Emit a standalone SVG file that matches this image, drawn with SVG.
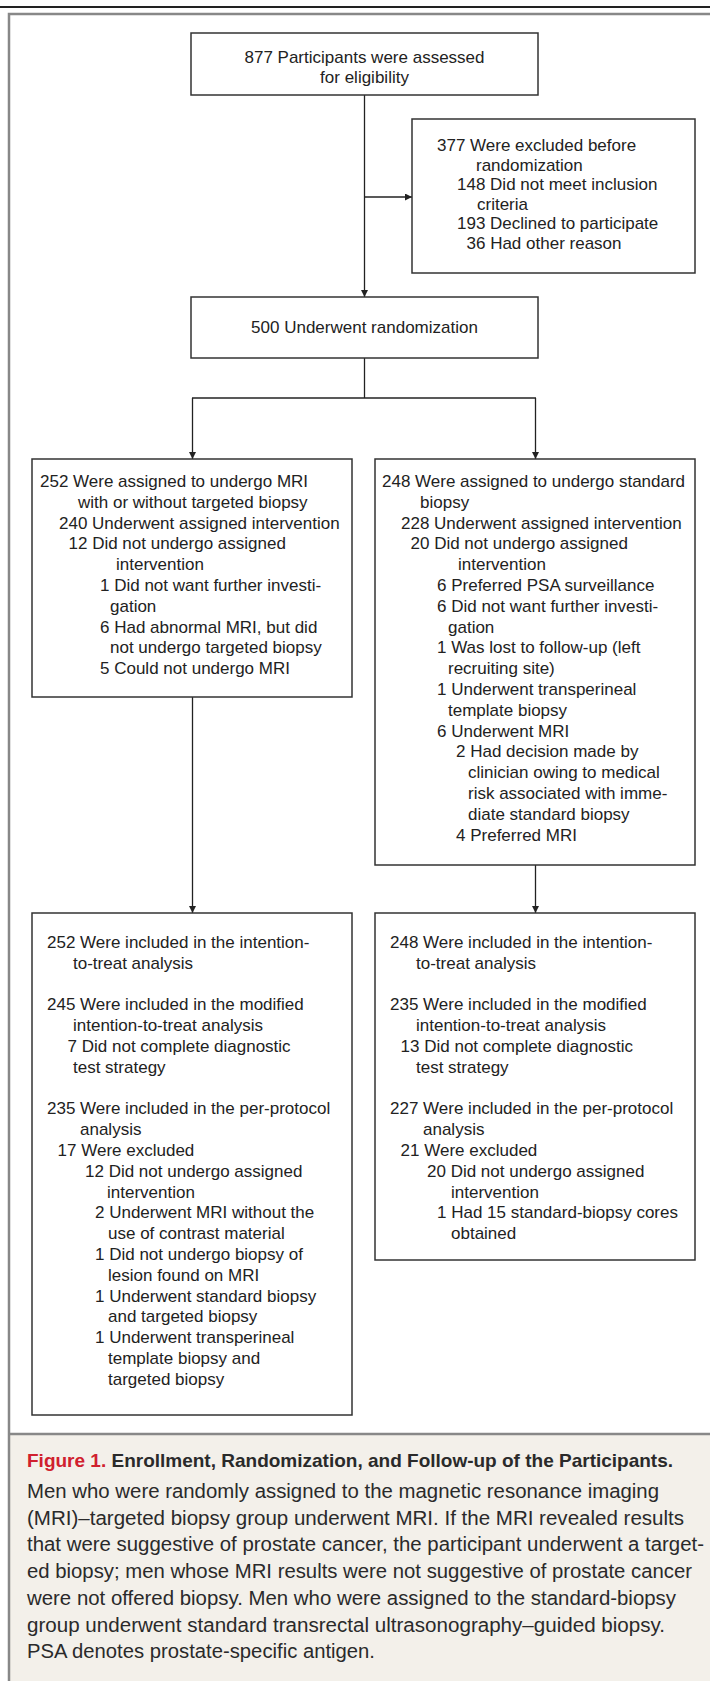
<svg xmlns="http://www.w3.org/2000/svg" width="710" height="1681" viewBox="0 0 710 1681">
<style>
.t{font-family:"Liberation Sans",Arial,sans-serif;font-size:17px;fill:#222}
.c{text-anchor:middle}
.box{fill:#fff;stroke:#333;stroke-width:1.5}
.ln{fill:none;stroke:#222;stroke-width:1.3}
.cap{font-family:"Liberation Sans",Arial,sans-serif;font-size:20px;fill:#2a2a2a}
.ttl{font-family:"Liberation Sans",Arial,sans-serif;font-size:19px;font-weight:bold;fill:#2a2a2a}
</style>
<defs>
<marker id="ah" viewBox="0 0 10 10" refX="10" refY="5" markerUnits="userSpaceOnUse" markerWidth="10" markerHeight="7" orient="auto">
<path d="M0,0 L10,5 L0,10 z" fill="#222"/>
</marker>
</defs>
<rect x="0" y="0" width="710" height="1681" fill="#fff"/>
<line x1="0" y1="7" x2="710" y2="7" stroke="#222" stroke-width="2"/>
<rect x="9" y="1434" width="701" height="247" fill="#f3f0ea"/>
<path d="M710,14 H9 V1681" fill="none" stroke="#888" stroke-width="2.5"/>
<line x1="9" y1="1434" x2="710" y2="1434" stroke="#888" stroke-width="2.5"/>

<g id="connectors">
<line class="ln" x1="364.5" y1="95" x2="364.5" y2="297" marker-end="url(#ah)"/>
<line class="ln" x1="364.5" y1="197" x2="412" y2="197" marker-end="url(#ah)"/>
<polyline class="ln" points="364.5,358 364.5,398"/>
<line class="ln" x1="192" y1="398" x2="536" y2="398"/>
<line class="ln" x1="192.5" y1="398" x2="192.5" y2="459" marker-end="url(#ah)"/>
<line class="ln" x1="535.5" y1="398" x2="535.5" y2="459" marker-end="url(#ah)"/>
<line class="ln" x1="192.5" y1="697" x2="192.5" y2="913" marker-end="url(#ah)"/>
<line class="ln" x1="535.5" y1="865" x2="535.5" y2="913" marker-end="url(#ah)"/>
</g>

<g id="n-assessed">
<rect class="box" x="191" y="33" width="347" height="62"/>
<text class="t c" x="364.5" y="63">877 Participants were assessed</text>
<text class="t c" x="364.5" y="83">for eligibility</text>
</g>

<g id="n-excluded">
<rect class="box" x="412" y="119" width="283" height="154"/>
<text class="t" x="437" y="151">377 Were excluded before</text>
<text class="t" x="476" y="170.6">randomization</text>
<text class="t" x="457" y="190.2">148 Did not meet inclusion</text>
<text class="t" x="477" y="209.8">criteria</text>
<text class="t" x="457" y="229.4">193 Declined to participate</text>
<text class="t" x="466.5" y="249">36 Had other reason</text>
</g>

<g id="n-randomized">
<rect class="box" x="191" y="297" width="347" height="61"/>
<text class="t c" x="364.5" y="333">500 Underwent randomization</text>
</g>

<g id="n-mri">
<rect class="box" x="32" y="459" width="320" height="238"/>
<text class="t" x="40" y="487">252 Were assigned to undergo MRI</text>
<text class="t" x="78" y="507.8">with or without targeted biopsy</text>
<text class="t" x="59" y="528.6">240 Underwent assigned intervention</text>
<text class="t" x="68.5" y="549.4">12 Did not undergo assigned</text>
<text class="t" x="116" y="570.2">intervention</text>
<text class="t" x="100" y="591">1 Did not want further investi-</text>
<text class="t" x="110" y="611.8">gation</text>
<text class="t" x="100" y="632.6">6 Had abnormal MRI, but did</text>
<text class="t" x="110" y="653.4">not undergo targeted biopsy</text>
<text class="t" x="100" y="674.2">5 Could not undergo MRI</text>
</g>

<g id="n-standard">
<rect class="box" x="375" y="459" width="320" height="406"/>
<text class="t" x="382" y="487">248 Were assigned to undergo standard</text>
<text class="t" x="420" y="507.8">biopsy</text>
<text class="t" x="401" y="528.6">228 Underwent assigned intervention</text>
<text class="t" x="410.5" y="549.4">20 Did not undergo assigned</text>
<text class="t" x="458" y="570.2">intervention</text>
<text class="t" x="437" y="591">6 Preferred PSA surveillance</text>
<text class="t" x="437" y="611.8">6 Did not want further investi-</text>
<text class="t" x="448" y="632.6">gation</text>
<text class="t" x="437" y="653.4">1 Was lost to follow-up (left</text>
<text class="t" x="448" y="674.2">recruiting site)</text>
<text class="t" x="437" y="695">1 Underwent transperineal</text>
<text class="t" x="448" y="715.8">template biopsy</text>
<text class="t" x="437" y="736.6">6 Underwent MRI</text>
<text class="t" x="456" y="757.4">2 Had decision made by</text>
<text class="t" x="468" y="778.2">clinician owing to medical</text>
<text class="t" x="468" y="799">risk associated with imme-</text>
<text class="t" x="468" y="819.8">diate standard biopsy</text>
<text class="t" x="456" y="840.6">4 Preferred MRI</text>
</g>

<g id="n-mri-analysis">
<rect class="box" x="32" y="913" width="320" height="502"/>
<text class="t" x="47" y="948">252 Were included in the intention-</text>
<text class="t" x="73" y="968.8">to-treat analysis</text>
<text class="t" x="47" y="1010.4">245 Were included in the modified</text>
<text class="t" x="73" y="1031.2">intention-to-treat analysis</text>
<text class="t" x="67.6" y="1052">7 Did not complete diagnostic</text>
<text class="t" x="73" y="1072.8">test strategy</text>
<text class="t" x="47" y="1114.4">235 Were included in the per-protocol</text>
<text class="t" x="80" y="1135.2">analysis</text>
<text class="t" x="57.6" y="1156">17 Were excluded</text>
<text class="t" x="85" y="1176.8">12 Did not undergo assigned</text>
<text class="t" x="107" y="1197.6">intervention</text>
<text class="t" x="95" y="1218.4">2 Underwent MRI without the</text>
<text class="t" x="108" y="1239.2">use of contrast material</text>
<text class="t" x="95" y="1260">1 Did not undergo biopsy of</text>
<text class="t" x="108" y="1280.8">lesion found on MRI</text>
<text class="t" x="95" y="1301.6">1 Underwent standard biopsy</text>
<text class="t" x="108" y="1322.4">and targeted biopsy</text>
<text class="t" x="95" y="1343.2">1 Underwent transperineal</text>
<text class="t" x="108" y="1364">template biopsy and</text>
<text class="t" x="108" y="1384.8">targeted biopsy</text>
</g>

<g id="n-standard-analysis">
<rect class="box" x="375" y="913" width="320" height="347"/>
<text class="t" x="390" y="948">248 Were included in the intention-</text>
<text class="t" x="416" y="968.8">to-treat analysis</text>
<text class="t" x="390" y="1010.4">235 Were included in the modified</text>
<text class="t" x="416" y="1031.2">intention-to-treat analysis</text>
<text class="t" x="400.6" y="1052">13 Did not complete diagnostic</text>
<text class="t" x="416" y="1072.8">test strategy</text>
<text class="t" x="390" y="1114.4">227 Were included in the per-protocol</text>
<text class="t" x="423" y="1135.2">analysis</text>
<text class="t" x="400.6" y="1156">21 Were excluded</text>
<text class="t" x="427" y="1176.8">20 Did not undergo assigned</text>
<text class="t" x="451" y="1197.6">intervention</text>
<text class="t" x="437" y="1218.4">1 Had 15 standard-biopsy cores</text>
<text class="t" x="451" y="1239.2">obtained</text>
</g>

<g id="caption">
<text class="ttl" x="27" y="1467"><tspan fill="#d0202e">Figure 1.</tspan> Enrollment, Randomization, and Follow-up of the Participants.</text>
<text class="cap" x="27" y="1498" textLength="632" lengthAdjust="spacingAndGlyphs">Men who were randomly assigned to the magnetic resonance imaging</text>
<text class="cap" x="27" y="1524.7" textLength="657" lengthAdjust="spacingAndGlyphs">(MRI)–targeted biopsy group underwent MRI. If the MRI revealed results</text>
<text class="cap" x="27" y="1551.4" textLength="677" lengthAdjust="spacingAndGlyphs">that were suggestive of prostate cancer, the participant underwent a target-</text>
<text class="cap" x="27" y="1578.1" textLength="665" lengthAdjust="spacingAndGlyphs">ed biopsy; men whose MRI results were not suggestive of prostate cancer</text>
<text class="cap" x="27" y="1604.8" textLength="649" lengthAdjust="spacingAndGlyphs">were not offered biopsy. Men who were assigned to the standard-biopsy</text>
<text class="cap" x="27" y="1631.5" textLength="638" lengthAdjust="spacingAndGlyphs">group underwent standard transrectal ultrasonography–guided biopsy.</text>
<text class="cap" x="27" y="1658.2" textLength="348" lengthAdjust="spacingAndGlyphs">PSA denotes prostate-specific antigen.</text>
</g>
</svg>
